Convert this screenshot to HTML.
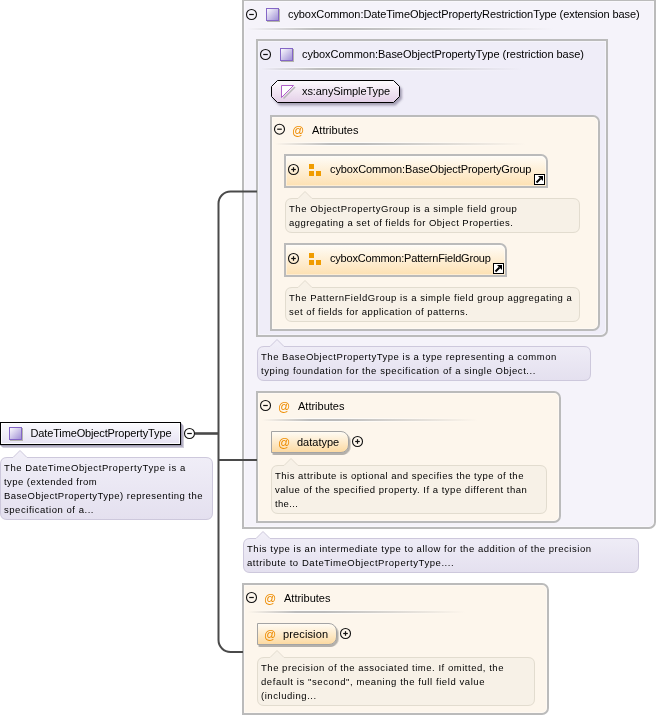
<!DOCTYPE html>
<html><head><meta charset="utf-8"><style>
html,body{margin:0;padding:0;background:#fff;width:657px;height:716px;overflow:hidden}
svg{display:block;font-family:"Liberation Sans", sans-serif}
text{-webkit-font-smoothing:antialiased}
</style></head><body>
<svg width="657" height="716" viewBox="0 0 657 716">
<defs>
<linearGradient id="sepg" x1="0" x2="1" y1="0" y2="0"><stop offset="0" stop-color="#bcbcbc" stop-opacity="0"/><stop offset="0.22" stop-color="#bcbcbc"/><stop offset="0.35" stop-color="#bcbcbc"/><stop offset="1" stop-color="#bcbcbc" stop-opacity="0"/></linearGradient>
<linearGradient id="sepw" x1="0" x2="1" y1="0" y2="0"><stop offset="0" stop-color="#fff" stop-opacity="0"/><stop offset="0.22" stop-color="#fff" stop-opacity="0.7"/><stop offset="0.35" stop-color="#fff" stop-opacity="0.7"/><stop offset="1" stop-color="#fff" stop-opacity="0"/></linearGradient>
<linearGradient id="icong" x1="0" y1="0" x2="1" y2="1"><stop offset="0" stop-color="#ffffff"/><stop offset="1" stop-color="#9c8cd4"/></linearGradient>
<linearGradient id="grpg" x1="0" y1="0" x2="0" y2="1"><stop offset="0" stop-color="#fffdf9"/><stop offset="1" stop-color="#fde0b0"/></linearGradient>
<linearGradient id="attg" x1="0" y1="0" x2="0" y2="1"><stop offset="0" stop-color="#fffcf6"/><stop offset="1" stop-color="#fcd9a0"/></linearGradient>
<linearGradient id="simpg" x1="0" y1="0" x2="0" y2="1"><stop offset="0" stop-color="#fdfbfd"/><stop offset="1" stop-color="#e4d0e8"/></linearGradient>
<linearGradient id="elg" x1="0" y1="0" x2="0" y2="1"><stop offset="0" stop-color="#fbfbfe"/><stop offset="1" stop-color="#e6e2f2"/></linearGradient>
<linearGradient id="dlavg" x1="0" y1="0" x2="0" y2="1"><stop offset="0" stop-color="#f1eff8"/><stop offset="1" stop-color="#e4e0ef"/></linearGradient>
<filter id="sh" x="-10%" y="-20%" width="130%" height="160%"><feDropShadow dx="2" dy="2.5" stdDeviation="1" flood-color="#4a4060" flood-opacity="0.45"/></filter>
<filter id="shE" x="-10%" y="-20%" width="130%" height="160%"><feDropShadow dx="2.5" dy="2.5" stdDeviation="0.8" flood-color="#6a6090" flood-opacity="0.55"/></filter>
<filter id="shA" x="-10%" y="-20%" width="130%" height="160%"><feDropShadow dx="1.5" dy="2" stdDeviation="0.7" flood-color="#5a5a5a" flood-opacity="0.45"/></filter>
</defs>
<path d="M243,0 L655,0 L655,522 A6,6 0 0 1 649,528 L243,528 Z" fill="#f5f3fa" stroke="#bbbbbb" stroke-width="2"/>
<path d="M244.5,1.5 L653.5,1.5 L653.5,522.0 A4.5,4.5 0 0 1 649.0,526.5 L244.5,526.5 Z" fill="none" stroke="#fff" stroke-opacity="0.4" stroke-width="1"/>
<circle cx="251.5" cy="14.5" r="5" fill="none" stroke="#111" stroke-width="1.1"/><line x1="249.2" y1="14.5" x2="253.8" y2="14.5" stroke="#111" stroke-width="1.2"/>
<rect x="267" y="9" width="13" height="13" fill="#b4b4ac"/>
<rect x="266.5" y="8.5" width="12" height="12" fill="url(#icong)" stroke="#8466c6" stroke-width="1"/>
<rect x="247" y="27" width="307" height="1" fill="url(#sepw)"/>
<rect x="247" y="30" width="307" height="1" fill="url(#sepw)"/>
<rect x="247" y="28" width="307" height="2" fill="url(#sepg)"/>
<path d="M257,40 L607,40 L607,330 A6,6 0 0 1 601,336 L257,336 Z" fill="#efedf8" stroke="#bbbbbb" stroke-width="2"/>
<path d="M258.5,41.5 L605.5,41.5 L605.5,330.0 A4.5,4.5 0 0 1 601.0,334.5 L258.5,334.5 Z" fill="none" stroke="#fff" stroke-opacity="0.4" stroke-width="1"/>
<circle cx="265.5" cy="54.5" r="5" fill="none" stroke="#111" stroke-width="1.1"/><line x1="263.2" y1="54.5" x2="267.8" y2="54.5" stroke="#111" stroke-width="1.2"/>
<rect x="281" y="49" width="13" height="13" fill="#b4b4ac"/>
<rect x="280.5" y="48.5" width="12" height="12" fill="url(#icong)" stroke="#8466c6" stroke-width="1"/>
<rect x="261" y="67" width="261" height="1" fill="url(#sepw)"/>
<rect x="261" y="70" width="261" height="1" fill="url(#sepw)"/>
<rect x="261" y="68" width="261" height="2" fill="url(#sepg)"/>
<path d="M277.5,80.5 L393.5,80.5 L399.5,86.5 L399.5,96.5 L393.5,102.5 L277.5,102.5 L271.5,96.5 L271.5,86.5 Z" fill="url(#simpg)" stroke="#000" stroke-width="1" filter="url(#sh)"/>
<path d="M283.5,98.5 L295,87" stroke="#b8b8b8" stroke-width="1.6"/>
<path d="M281.5,97.5 L281.5,85.5 L293.5,85.5 Z" fill="#fff" stroke="#b060c8" stroke-width="1"/>
<path d="M271,116 L593,116 A6,6 0 0 1 599,122 L599,324 A6,6 0 0 1 593,330 L271,330 Z" fill="#fdf6ec" stroke="#bbbbbb" stroke-width="2"/>
<path d="M272.5,117.5 L593.0,117.5 A4.5,4.5 0 0 1 597.5,122.0 L597.5,324.0 A4.5,4.5 0 0 1 593.0,328.5 L272.5,328.5 Z" fill="none" stroke="#fff" stroke-opacity="0.4" stroke-width="1"/>
<circle cx="279.5" cy="129.2" r="5" fill="none" stroke="#111" stroke-width="1.1"/><line x1="277.2" y1="129.2" x2="281.8" y2="129.2" stroke="#111" stroke-width="1.2"/>
<rect x="275" y="142" width="251" height="1" fill="url(#sepw)"/>
<rect x="275" y="145" width="251" height="1" fill="url(#sepw)"/>
<rect x="275" y="143" width="251" height="2" fill="url(#sepg)"/>
<path d="M285,155 L541,155 A6,6 0 0 1 547,161 L547,187 L285,187 Z" fill="url(#grpg)" stroke="#bbbbbb" stroke-width="2"/>
<path d="M286.5,156.5 L541.0,156.5 A4.5,4.5 0 0 1 545.5,161.0 L545.5,185.5 L286.5,185.5 Z" fill="none" stroke="#fff" stroke-opacity="0.4" stroke-width="1"/>
<circle cx="293.5" cy="169.5" r="5" fill="none" stroke="#111" stroke-width="1.1"/><line x1="291.2" y1="169.5" x2="295.8" y2="169.5" stroke="#111" stroke-width="1.2"/><line x1="293.5" y1="167.2" x2="293.5" y2="171.8" stroke="#111" stroke-width="1.2"/>
<rect x="309" y="164" width="5" height="5" fill="#f09c00"/>
<rect x="309" y="171" width="5" height="5" fill="#f09c00"/>
<rect x="316" y="171" width="5" height="5" fill="#f09c00"/>
<rect x="534.5" y="174.5" width="10" height="10" fill="#fff" stroke="#000" stroke-width="1"/>
<path d="M536.5,182.5 L540.5,178.5" stroke="#000" stroke-width="2"/>
<path d="M538,176 L543,176 L543,181 Z" fill="#000"/>
<path d="M292.0,198.5 L298,198.5 L305,191.5 L312,198.5 L573.0,198.5 Q579.5,198.5 579.5,205.0 L579.5,226.0 Q579.5,232.5 573.0,232.5 L292.0,232.5 Q285.5,232.5 285.5,226.0 L285.5,205.0 Q285.5,198.5 292.0,198.5 Z" fill="#f7f1e7" stroke="#e2dccf" stroke-width="1"/>
<path d="M285,244 L500,244 A6,6 0 0 1 506,250 L506,276 L285,276 Z" fill="url(#grpg)" stroke="#bbbbbb" stroke-width="2"/>
<path d="M286.5,245.5 L500.0,245.5 A4.5,4.5 0 0 1 504.5,250.0 L504.5,274.5 L286.5,274.5 Z" fill="none" stroke="#fff" stroke-opacity="0.4" stroke-width="1"/>
<circle cx="293.5" cy="258.5" r="5" fill="none" stroke="#111" stroke-width="1.1"/><line x1="291.2" y1="258.5" x2="295.8" y2="258.5" stroke="#111" stroke-width="1.2"/><line x1="293.5" y1="256.2" x2="293.5" y2="260.8" stroke="#111" stroke-width="1.2"/>
<rect x="309" y="253" width="5" height="5" fill="#f09c00"/>
<rect x="309" y="260" width="5" height="5" fill="#f09c00"/>
<rect x="316" y="260" width="5" height="5" fill="#f09c00"/>
<rect x="493.5" y="263.5" width="10" height="10" fill="#fff" stroke="#000" stroke-width="1"/>
<path d="M495.5,271.5 L499.5,267.5" stroke="#000" stroke-width="2"/>
<path d="M497,265 L502,265 L502,270 Z" fill="#000"/>
<path d="M292.0,287.5 L298,287.5 L305,280.5 L312,287.5 L573.0,287.5 Q579.5,287.5 579.5,294.0 L579.5,315.0 Q579.5,321.5 573.0,321.5 L292.0,321.5 Q285.5,321.5 285.5,315.0 L285.5,294.0 Q285.5,287.5 292.0,287.5 Z" fill="#f7f1e7" stroke="#e2dccf" stroke-width="1"/>
<path d="M264.0,346.5 L270,346.5 L277,339.5 L284,346.5 L584.0,346.5 Q590.5,346.5 590.5,353.0 L590.5,374.0 Q590.5,380.5 584.0,380.5 L264.0,380.5 Q257.5,380.5 257.5,374.0 L257.5,353.0 Q257.5,346.5 264.0,346.5 Z" fill="url(#dlavg)" stroke="#cdc8dc" stroke-width="1"/>
<path d="M257,392 L554,392 A6,6 0 0 1 560,398 L560,516 A6,6 0 0 1 554,522 L257,522 Z" fill="#fdf6ec" stroke="#bbbbbb" stroke-width="2"/>
<path d="M258.5,393.5 L554.0,393.5 A4.5,4.5 0 0 1 558.5,398.0 L558.5,516.0 A4.5,4.5 0 0 1 554.0,520.5 L258.5,520.5 Z" fill="none" stroke="#fff" stroke-opacity="0.4" stroke-width="1"/>
<circle cx="265.5" cy="405.5" r="5" fill="none" stroke="#111" stroke-width="1.1"/><line x1="263.2" y1="405.5" x2="267.8" y2="405.5" stroke="#111" stroke-width="1.2"/>
<rect x="262" y="418" width="216" height="1" fill="url(#sepw)"/>
<rect x="262" y="421" width="216" height="1" fill="url(#sepw)"/>
<rect x="262" y="419" width="216" height="2" fill="url(#sepg)"/>
<path d="M271.5,431.5 H341.0 A7.5,7.5 0 0 1 348.5,439.0 V445.0 A7.5,7.5 0 0 1 341.0,452.5 H271.5 Z" fill="url(#attg)" stroke="#a4a4a4" stroke-width="1" filter="url(#shA)"/>
<circle cx="357.5" cy="441.5" r="5" fill="none" stroke="#111" stroke-width="1.1"/><line x1="355.2" y1="441.5" x2="359.8" y2="441.5" stroke="#111" stroke-width="1.2"/><line x1="357.5" y1="439.2" x2="357.5" y2="443.8" stroke="#111" stroke-width="1.2"/>
<path d="M278.0,465.5 L284,465.5 L291,458.5 L298,465.5 L540.0,465.5 Q546.5,465.5 546.5,472.0 L546.5,507.0 Q546.5,513.5 540.0,513.5 L278.0,513.5 Q271.5,513.5 271.5,507.0 L271.5,472.0 Q271.5,465.5 278.0,465.5 Z" fill="#f7f1e7" stroke="#e2dccf" stroke-width="1"/>
<path d="M250.0,538.5 L256,538.5 L263,531.5 L270,538.5 L632.0,538.5 Q638.5,538.5 638.5,545.0 L638.5,566.0 Q638.5,572.5 632.0,572.5 L250.0,572.5 Q243.5,572.5 243.5,566.0 L243.5,545.0 Q243.5,538.5 250.0,538.5 Z" fill="url(#dlavg)" stroke="#cdc8dc" stroke-width="1"/>
<path d="M243,584 L542,584 A6,6 0 0 1 548,590 L548,708 A6,6 0 0 1 542,714 L243,714 Z" fill="#fdf6ec" stroke="#bbbbbb" stroke-width="2"/>
<path d="M244.5,585.5 L542.0,585.5 A4.5,4.5 0 0 1 546.5,590.0 L546.5,708.0 A4.5,4.5 0 0 1 542.0,712.5 L244.5,712.5 Z" fill="none" stroke="#fff" stroke-opacity="0.4" stroke-width="1"/>
<circle cx="251.5" cy="597.5" r="5" fill="none" stroke="#111" stroke-width="1.1"/><line x1="249.2" y1="597.5" x2="253.8" y2="597.5" stroke="#111" stroke-width="1.2"/>
<rect x="248" y="610" width="217" height="1" fill="url(#sepw)"/>
<rect x="248" y="613" width="217" height="1" fill="url(#sepw)"/>
<rect x="248" y="611" width="217" height="2" fill="url(#sepg)"/>
<path d="M257.5,623.5 H329.0 A7.5,7.5 0 0 1 336.5,631.0 V637.0 A7.5,7.5 0 0 1 329.0,644.5 H257.5 Z" fill="url(#attg)" stroke="#a4a4a4" stroke-width="1" filter="url(#shA)"/>
<circle cx="345.5" cy="633.5" r="5" fill="none" stroke="#111" stroke-width="1.1"/><line x1="343.2" y1="633.5" x2="347.8" y2="633.5" stroke="#111" stroke-width="1.2"/><line x1="345.5" y1="631.2" x2="345.5" y2="635.8" stroke="#111" stroke-width="1.2"/>
<path d="M264.0,657.5 L270,657.5 L277,650.5 L284,657.5 L528.0,657.5 Q534.5,657.5 534.5,664.0 L534.5,699.0 Q534.5,705.5 528.0,705.5 L264.0,705.5 Q257.5,705.5 257.5,699.0 L257.5,664.0 Q257.5,657.5 264.0,657.5 Z" fill="#f7f1e7" stroke="#e2dccf" stroke-width="1"/>
<path d="M183,425 L184,426 L184,448 L3,448 L2,447 L183,447 Z" fill="#d2cfdc"/>
<path d="M182,424 L183,425 L183,447 L2,447 L1,446 L182,446 Z" fill="#b7b4c6"/>
<path d="M181,423 L182,424 L182,446 L1,446 L0,445 L181,445 Z" fill="#a09cb2"/>
<rect x="0.5" y="422.5" width="180" height="22" fill="url(#elg)" stroke="#000" stroke-width="1"/>
<path d="M1.5,443.5 L1.5,423.5 L179.5,423.5" fill="none" stroke="#fff" stroke-width="1" opacity="0.8"/>
<path d="M1.5,443.5 L179.5,443.5 L179.5,423.5" fill="none" stroke="#fff" stroke-width="1" opacity="0.9"/>
<rect x="10" y="428" width="13" height="13" fill="#b4b4ac"/>
<rect x="9.5" y="427.5" width="12" height="12" fill="url(#icong)" stroke="#8466c6" stroke-width="1"/>
<circle cx="189.5" cy="433.5" r="5" fill="none" stroke="#111" stroke-width="1.1"/><line x1="187.2" y1="433.5" x2="191.8" y2="433.5" stroke="#111" stroke-width="1.2"/>
<path d="M7.0,457.5 L13,457.5 L20,450.5 L27,457.5 L206.0,457.5 Q212.5,457.5 212.5,464.0 L212.5,513.0 Q212.5,519.5 206.0,519.5 L7.0,519.5 Q0.5,519.5 0.5,513.0 L0.5,464.0 Q0.5,457.5 7.0,457.5 Z" fill="url(#dlavg)" stroke="#cdc8dc" stroke-width="1"/>
<path d="M195,433.5 L218.5,433.5" stroke="#4a4a4a" stroke-width="2.6" fill="none"/>
<path d="M257,191.5 L230.5,191.5 A12,12 0 0 0 218.5,203.5 L218.5,640 A12,12 0 0 0 230.5,652 L243,652" stroke="#4a4a4a" stroke-width="2" fill="none"/>
<path d="M218.5,460 L257,460" stroke="#4a4a4a" stroke-width="2" fill="none"/>
<g opacity="0.999">
<text x="288" y="18" font-size="11" fill="#000" textLength="351.65" lengthAdjust="spacing" >cyboxCommon:DateTimeObjectPropertyRestrictionType (extension base)</text>
<text x="302" y="58" font-size="11" fill="#000" textLength="281.9" lengthAdjust="spacing" >cyboxCommon:BaseObjectPropertyType (restriction base)</text>
<text x="302" y="95" font-size="11" fill="#000" textLength="88.07" lengthAdjust="spacing" >xs:anySimpleType</text>
<text x="292" y="134.5" font-size="12" fill="#ee8c00" >@</text>
<text x="312" y="134" font-size="11" fill="#000" >Attributes</text>
<text x="330" y="173" font-size="11" fill="#000" textLength="201.4" lengthAdjust="spacing" >cyboxCommon:BaseObjectPropertyGroup</text>
<text x="289" y="212" font-size="9.5" fill="#000" letter-spacing="0.5326" >The ObjectPropertyGroup is a simple field group</text>
<text x="289" y="226" font-size="9.5" fill="#000" letter-spacing="0.4643" >aggregating a set of fields for Object Properties.</text>
<text x="330" y="262" font-size="11" fill="#000" textLength="160.9" lengthAdjust="spacing" >cyboxCommon:PatternFieldGroup</text>
<text x="289" y="301" font-size="9.5" fill="#000" letter-spacing="0.5345" >The PatternFieldGroup is a simple field group aggregating a</text>
<text x="289" y="315" font-size="9.5" fill="#000" letter-spacing="0.4598" >set of fields for application of patterns.</text>
<text x="261" y="360" font-size="9.5" fill="#000" letter-spacing="0.5289" >The BaseObjectPropertyType is a type representing a common</text>
<text x="261" y="374" font-size="9.5" fill="#000" letter-spacing="0.56" >typing foundation for the specification of a single Object...</text>
<text x="278" y="410.5" font-size="12" fill="#ee8c00" >@</text>
<text x="298" y="410" font-size="11" fill="#000" >Attributes</text>
<text x="278" y="446.5" font-size="12" fill="#ee8c00" >@</text>
<text x="297" y="446" font-size="11" fill="#000" >datatype</text>
<text x="275" y="479" font-size="9.5" fill="#000" letter-spacing="0.4936" >This attribute is optional and specifies the type of the</text>
<text x="275" y="493" font-size="9.5" fill="#000" letter-spacing="0.5143" >value of the specified property. If a type different than</text>
<text x="275" y="507" font-size="9.5" fill="#000" letter-spacing="0.35" >the...</text>
<text x="247" y="552" font-size="9.5" fill="#000" letter-spacing="0.5313" >This type is an intermediate type to allow for the addition of the precision</text>
<text x="247" y="566" font-size="9.5" fill="#000" letter-spacing="0.5667" >attribute to DateTimeObjectPropertyType....</text>
<text x="264" y="602.5" font-size="12" fill="#ee8c00" >@</text>
<text x="284" y="602" font-size="11" fill="#000" >Attributes</text>
<text x="264" y="638.5" font-size="12" fill="#ee8c00" >@</text>
<text x="283" y="638" font-size="11" fill="#000" textLength="45.0" lengthAdjust="spacing" >precision</text>
<text x="261" y="671" font-size="9.5" fill="#000" letter-spacing="0.5288" >The precision of the associated time. If omitted, the</text>
<text x="261" y="685" font-size="9.5" fill="#000" letter-spacing="0.5771" >default is "second", meaning the full field value</text>
<text x="261" y="699" font-size="9.5" fill="#000" letter-spacing="0.55" >(including...</text>
<text x="30.5" y="437" font-size="11" fill="#000" textLength="141.0" lengthAdjust="spacing" >DateTimeObjectPropertyType</text>
<text x="4" y="471" font-size="9.5" fill="#000" letter-spacing="0.5912" >The DateTimeObjectPropertyType is a</text>
<text x="4" y="485" font-size="9.5" fill="#000" letter-spacing="0.4556" >type (extended from</text>
<text x="4" y="499" font-size="9.5" fill="#000" letter-spacing="0.4731" >BaseObjectPropertyType) representing the</text>
<text x="4" y="513" font-size="9.5" fill="#000" letter-spacing="0.54" >specification of a...</text>
</g>
</svg>
</body></html>
